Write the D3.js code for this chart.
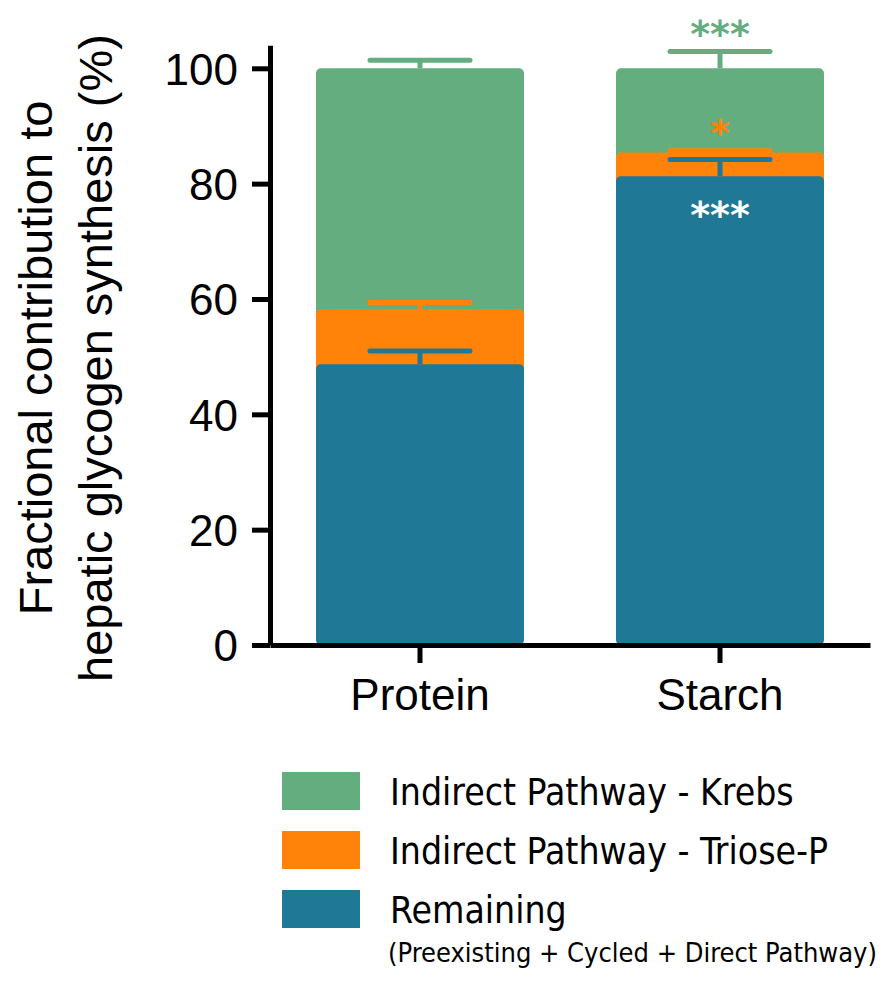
<!DOCTYPE html>
<html>
<head>
<meta charset="utf-8">
<script src="https://cdn.jsdelivr.net/npm/d3@7"></script>
<style>
  html, body { margin: 0; padding: 0; background: #fff; }
  svg { display: block; }
</style>
</head>
<body>
<svg id="chart" width="885" height="981"></svg>
<script>
// ---- Data ----
const categories = ["Protein", "Starch"];
const remaining = [48.7, 81.3];
const trioseP = [9.5, 4.1];
const krebs = [41.8, 14.6];
const remainingErr = [2.3, 2.9];
const trioseErr = [1.2, 0.3];
const krebsErr = [1.4, 2.9];
const yTicks = [0, 20, 40, 60, 80, 100];
const seriesNames = ["Remaining", "Indirect Pathway - Triose-P", "Indirect Pathway - Krebs"];
const seriesKeys = ["remaining", "trioseP", "krebs"];
const legendLabels = ["Indirect Pathway - Krebs", "Indirect Pathway - Triose-P", "Remaining"];
const legendSub = "(Preexisting + Cycled + Direct Pathway)";
// significance marks for Starch: [series, text]
const sigSeries = ["krebs", "trioseP", "remaining"];
const sigText = ["***", "*", "***"];

const colors = { remaining: "#1f7896", trioseP: "#ff8309", krebs: "#64ad7e" };
const errs = { remaining: remainingErr, trioseP: trioseErr, krebs: krebsErr };

const rows = categories.map((c, i) => ({ category: c, remaining: remaining[i], trioseP: trioseP[i], krebs: krebs[i] }));
const stacked = d3.stack().keys(seriesKeys)(rows);

const svg = d3.select("#chart");
const y = d3.scaleLinear().domain([0, 104]).range([645, 645 - 104 * 5.767]);
const x = d3.scaleBand().domain(categories).range([270, 870]).paddingInner(0.3067).paddingOuter(0.1533);

const r = 5;
// bars: draw top series first so lower segments overlap their bottoms
const barG = svg.append("g");
stacked.slice().reverse().forEach(s => {
  barG.selectAll(null).data(s).enter().append("rect")
    .attr("x", d => x(d.data.category))
    .attr("width", x.bandwidth())
    .attr("y", d => y(d[1]))
    .attr("height", d => y(d[0]) - y(d[1]) + (d[0] > 0 ? r * 2 : 0))
    .attr("rx", r).attr("ry", r)
    .attr("fill", colors[s.key]);
});

// error bars (upper)
const errG = svg.append("g");
stacked.forEach(s => {
  s.forEach((d, i) => {
    const cx = x(d.data.category) + x.bandwidth() / 2;
    const top = y(d[1]);
    const cap = y(d[1] + errs[s.key][i]);
    errG.append("line").attr("x1", cx).attr("x2", cx).attr("y1", top).attr("y2", cap)
      .attr("stroke", colors[s.key]).attr("stroke-width", 5);
    errG.append("line").attr("x1", cx - 50).attr("x2", cx + 50).attr("y1", cap).attr("y2", cap)
      .attr("stroke", colors[s.key]).attr("stroke-width", 5).attr("stroke-linecap", "round");
  });
});

// significance annotations for Starch
const starchIdx = 1;
const sigG = svg.append("g");
sigSeries.forEach((k, j) => {
  const s = stacked.find(ss => ss.key === k);
  const d = s[starchIdx];
  const cx = x(d.data.category) + x.bandwidth() / 2;
  let cy, fill;
  if (k === "krebs") { cy = y(d[1] + errs[k][starchIdx]) - 27; fill = colors.krebs; }
  else if (k === "trioseP") { cy = y(d[1]) - 28; fill = colors.trioseP; }
  else { cy = y(d[1]) + 30; fill = "#ffffff"; }
  sigG.append("text").attr("x", cx).attr("y", cy + 22)
    .attr("text-anchor", "middle")
    .attr("font-family", "'DejaVu Sans', Verdana, sans-serif")
    .attr("font-weight", "bold")
    .attr("font-size", 38)
    .attr("fill", fill)
    .text(sigText[j]);
});

// axes
const yAxis = d3.axisLeft(y).tickValues(yTicks).tickSize(18).tickSizeOuter(0).tickPadding(14);
const yG = svg.append("g").attr("transform", "translate(270,0)").call(yAxis);
yG.select(".domain").attr("stroke", "#000").attr("stroke-width", 5);
yG.selectAll(".tick line").attr("stroke", "#000").attr("stroke-width", 5);
yG.selectAll(".tick text").attr("font-family", "'Liberation Sans', Arial, sans-serif")
  .attr("font-size", 44).attr("fill", "#000").attr("dy", "0.36em");

const xAxis = d3.axisBottom(x).tickSize(18).tickSizeOuter(0).tickPadding(0);
const xG = svg.append("g").attr("transform", "translate(0,645)").call(xAxis);
xG.select(".domain").attr("stroke", "#000").attr("stroke-width", 5);
xG.selectAll(".tick line").attr("stroke", "#000").attr("stroke-width", 5);
xG.selectAll(".tick text").attr("font-family", "'Liberation Sans', Arial, sans-serif")
  .attr("font-size", 44).attr("fill", "#000").attr("y", 65).attr("dy", 0);
yG.attr("font-family", null).attr("font-size", null);
xG.attr("font-family", null).attr("font-size", null);

// y title
const titleLines = ["Fractional contribution to", "hepatic glycogen synthesis (%)"];
const titleX = [52, 112];
titleLines.forEach((t, i) => {
  svg.append("text")
    .attr("transform", `translate(${titleX[i]},358) rotate(-90)`)
    .attr("text-anchor", "middle")
    .attr("font-family", "'Liberation Sans', Arial, sans-serif")
    .attr("font-size", 47)
    .attr("fill", "#000")
    .text(t);
});

// legend
const legendKeys = ["krebs", "trioseP", "remaining"];
const legG = svg.append("g");
const legFont = "'DejaVu Sans Condensed', 'DejaVu Sans', Verdana, sans-serif";
legendKeys.forEach((k, i) => {
  const top = 772 + i * 59;
  legG.append("rect").attr("x", 282).attr("y", top).attr("width", 78).attr("height", 38)
    .attr("fill", colors[k]);
  legG.append("text").attr("x", 390).attr("y", top + 19 + 14)
    .attr("font-family", legFont).attr("font-size", 37).attr("fill", "#000")
    .text(legendLabels[i]);
});
legG.append("text").attr("x", 388).attr("y", 962)
  .attr("font-family", legFont).attr("font-size", 27).attr("fill", "#000")
  .text(legendSub);
</script>
</body>
</html>
